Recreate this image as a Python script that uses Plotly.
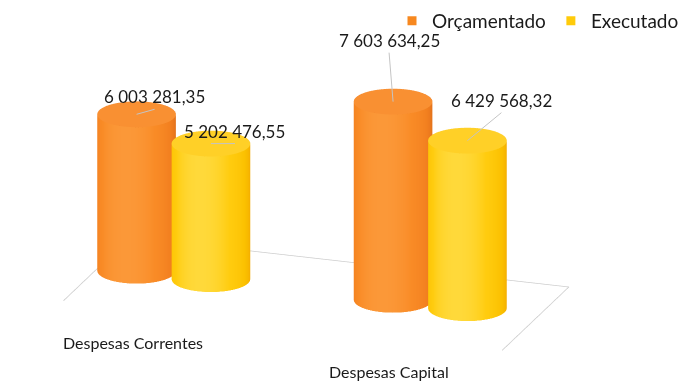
import numpy as np
import plotly.graph_objects as go

# --- data -------------------------------------------------------------
categories = ["Despesas Correntes", "Despesas Capital"]
series_names = ["Orçamentado", "Executado"]
orcamentado = [6003281.35, 7603634.25]
executado = [5202476.55, 6429568.32]
series_values = [orcamentado, executado]
series_colors = ["#F7881F", "#FFCB0A"]
# shading ramps for the cylinder walls: shadowed edge -> lit face
series_ramps = [
    [[0.0, "#D9691A"], [0.45, "#F27F1F"], [0.8, "#F98B26"], [1.0, "#FB9838"]],
    [[0.0, "#EFA300"], [0.45, "#FBC000"], [0.8, "#FFCC0F"], [1.0, "#FFD93A"]],
]
cap_colors = ["#F99032", "#FFD027"]

# --- geometry of the 3D clustered cylinder chart ----------------------
GROUP_STEP = 3.45     # distance between category groups (x units)
SERIES_STEP = 1.0     # distance between cylinders inside a group
RADIUS = 0.5
Z_UNIT = 2.85e6       # value per world unit of height
X_RANGE = [-1.9, 6.7]
Y_RANGE = [-2.6, 2.0]
Z_RANGE = [0.0, 8.5e6 / Z_UNIT]
FLOOR_X = [-0.5, 5.4]
FLOOR_Y = [-1.4, 1.2]
LABEL_Y = -1.6        # depth of the category labels
SCALE = 2.8 / 6.8     # scene size per world unit

EYE = dict(x=0.48, y=-0.898, z=0.33)
VIEW_ANGLE = np.arctan2(EYE["y"], EYE["x"])
HIGHLIGHT_ANGLE = VIEW_ANGLE - np.radians(25)

FLAT = dict(ambient=1.0, diffuse=0.0, specular=0.0, roughness=1.0, fresnel=0.0)


def fmt(v):
    s = f"{v:,.2f}"
    return s.replace(",", " ").replace(".", ",")


def cylinder(x0, y0, h, ramp, cap_color):
    theta = np.linspace(0, 2 * np.pi, 121)
    T, Z = np.meshgrid(theta, np.array([0.0, h]))
    shade = np.cos(T - HIGHLIGHT_ANGLE)
    side = go.Surface(x=x0 + RADIUS * np.cos(T), y=y0 + RADIUS * np.sin(T), z=Z,
                      surfacecolor=shade, colorscale=ramp, cmin=-0.4, cmax=1.0,
                      showscale=False, hoverinfo="skip", lighting=FLAT)
    T2, R2 = np.meshgrid(theta, np.array([0.0, RADIUS]))
    cap = go.Surface(x=x0 + R2 * np.cos(T2), y=y0 + R2 * np.sin(T2), z=np.full_like(T2, h),
                     surfacecolor=np.zeros_like(T2),
                     colorscale=[[0, cap_color], [1, cap_color]], cmin=0, cmax=1,
                     showscale=False, hoverinfo="skip", lighting=FLAT)
    return [side, cap]


fig = go.Figure()
annotations = []
# (ax, ay) pixel offsets of each value label from the top of its cylinder
label_offsets = [[(18, -5), (24, 0)], [(-4, -49), (34, -28)]]

for j, (name, vals, col) in enumerate(zip(series_names, series_values, series_colors)):
    for i, v in enumerate(vals):
        x0 = i * GROUP_STEP + j * SERIES_STEP
        h = v / Z_UNIT
        for tr in cylinder(x0, 0.0, h, series_ramps[j], cap_colors[j]):
            fig.add_trace(tr)
        ax, ay = label_offsets[i][j]
        annotations.append(dict(
            x=x0, y=0.0, z=h, text=fmt(v), showarrow=True, arrowhead=0,
            arrowcolor="#c4c4c4", arrowwidth=1, ax=ax, ay=ay, standoff=0,
            font=dict(family="Lato", size=17, color="#1a1a1a"), yanchor="bottom"))
    # legend entry
    fig.add_trace(go.Scatter3d(x=[None], y=[None], z=[None], mode="markers", name=name,
                               marker=dict(symbol="square", size=9, color=col)))

for i, cat in enumerate(categories):
    annotations.append(dict(
        x=i * GROUP_STEP + 0.5 * SERIES_STEP, y=LABEL_Y, z=0, text=cat, showarrow=False,
        yshift=-28, font=dict(family="Lato", size=16, color="#1a1a1a")))

# floor outline (left, back and right edges)
fx = [FLOOR_X[0], FLOOR_X[0], FLOOR_X[1], FLOOR_X[1]]
fy = [FLOOR_Y[0], FLOOR_Y[1], FLOOR_Y[1], FLOOR_Y[0]]
fig.add_trace(go.Scatter3d(x=fx, y=fy, z=[0, 0, 0, 0], mode="lines",
                           line=dict(color="#cccccc", width=1.5), showlegend=False,
                           hoverinfo="skip"))

hidden = dict(visible=False, showbackground=False, showgrid=False, zeroline=False,
              showspikes=False)
fig.update_layout(
    width=684, height=382,
    margin=dict(l=0, r=0, t=0, b=0),
    paper_bgcolor="white",
    showlegend=True,
    legend=dict(orientation="h", x=1.012, xanchor="right", y=0.995, yanchor="top",
                font=dict(family="Lato", size=19, color="#1a1a1a"),
                bgcolor="rgba(0,0,0,0)", itemwidth=30),
    scene=dict(
        domain=dict(x=[0, 1], y=[0, 1]),
        xaxis=dict(range=X_RANGE, **hidden),
        yaxis=dict(range=Y_RANGE, **hidden),
        zaxis=dict(range=Z_RANGE, **hidden),
        aspectmode="manual",
        aspectratio=dict(x=SCALE * (X_RANGE[1] - X_RANGE[0]),
                         y=SCALE * (Y_RANGE[1] - Y_RANGE[0]),
                         z=SCALE * (Z_RANGE[1] - Z_RANGE[0])),
        camera=dict(eye=EYE, center=dict(x=0.17, y=0, z=0),
                    up=dict(x=0, y=0, z=1), projection=dict(type="orthographic")),
        annotations=annotations,
        bgcolor="white",
    ),
)

fig.write_html("out.html")
